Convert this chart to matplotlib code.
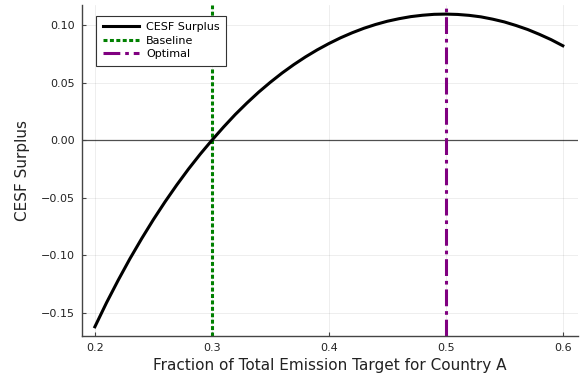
import matplotlib
matplotlib.use("Agg")
import matplotlib.pyplot as plt

# fraction of total emission target for country A
frac = [0.20, 0.21, 0.22, 0.23, 0.24, 0.25, 0.26, 0.27, 0.28, 0.29, 0.30,
        0.31, 0.32, 0.33, 0.34, 0.35, 0.36, 0.37, 0.38, 0.39, 0.40,
        0.41, 0.42, 0.43, 0.44, 0.45, 0.46, 0.47, 0.48, 0.49, 0.50,
        0.51, 0.52, 0.53, 0.54, 0.55, 0.56, 0.57, 0.58, 0.59, 0.60]
# CESF surplus
surplus = [-0.1620, -0.1410, -0.1214, -0.1028, -0.0854, -0.0689, -0.0534, -0.0388,
           -0.0250, -0.0121, 0.0000, 0.0115, 0.0224, 0.0324, 0.0418, 0.0504,
           0.0584, 0.0657, 0.0724, 0.0785, 0.0840, 0.0890, 0.0934, 0.0973,
           0.1006, 0.1034, 0.1056, 0.1074, 0.1086, 0.1094, 0.1096, 0.1093,
           0.1085, 0.1072, 0.1052, 0.1028, 0.0997, 0.0962, 0.0920, 0.0874, 0.0821]
baseline_x = 0.3
optimal_x = 0.5

xticks = [0.2, 0.3, 0.4, 0.5, 0.6]
yticks = [-0.15, -0.10, -0.05, 0.00, 0.05, 0.10]

plt.rcParams['font.family'] = ['DejaVu Sans']

fig = plt.figure(figsize=(5.8, 3.76), dpi=100)
ax = fig.add_axes([0.1414, 0.1064, 0.8552, 0.8803])

ax.axhline(0, color='#555555', lw=0.9, zorder=1)
ax.plot(frac, surplus, color='black', lw=2.2, label='CESF Surplus', zorder=3,
        solid_joinstyle='round')
ax.axvline(baseline_x, color='#008000', lw=2.2, dashes=(1.3, 0.8), label='Baseline', zorder=2)
ax.axvline(optimal_x, color='#800080', lw=2.2, dashes=(5.5, 1.6, 1.2, 1.6), label='Optimal', zorder=2)

ax.set_xlim(0.189, 0.613)
ax.set_ylim(-0.170, 0.1175)
ax.set_xticks(xticks)
ax.set_xticklabels([f"{t:.1f}" for t in xticks])
ax.set_yticks(yticks)
ax.set_yticklabels([f"{t:.2f}".replace('-', '\u2212') for t in yticks])

ax.grid(True, color='#000000', alpha=0.08, lw=0.6)
for s in ['top', 'right']:
    ax.spines[s].set_visible(False)
for s in ['left', 'bottom']:
    ax.spines[s].set_color('#444444')
    ax.spines[s].set_linewidth(1.0)
ax.tick_params(direction='in', length=3, width=0.8, colors='#444444',
               labelcolor='#222222', labelsize=8, pad=5)

ax.set_xlabel('Fraction of Total Emission Target for Country A', fontsize=11, color='#222222', labelpad=4)
ax.set_ylabel('CESF Surplus', fontsize=11, color='#222222', labelpad=8)

leg = ax.legend(loc='upper left', bbox_to_anchor=(0.028, 0.968), fontsize=8, fancybox=False,
                edgecolor='#333333', framealpha=1, handlelength=3.3, borderpad=0.6,
                labelspacing=0.32, handletextpad=0.6, borderaxespad=0)
leg.get_frame().set_linewidth(0.8)

fig.savefig('out.png', dpi=100)
